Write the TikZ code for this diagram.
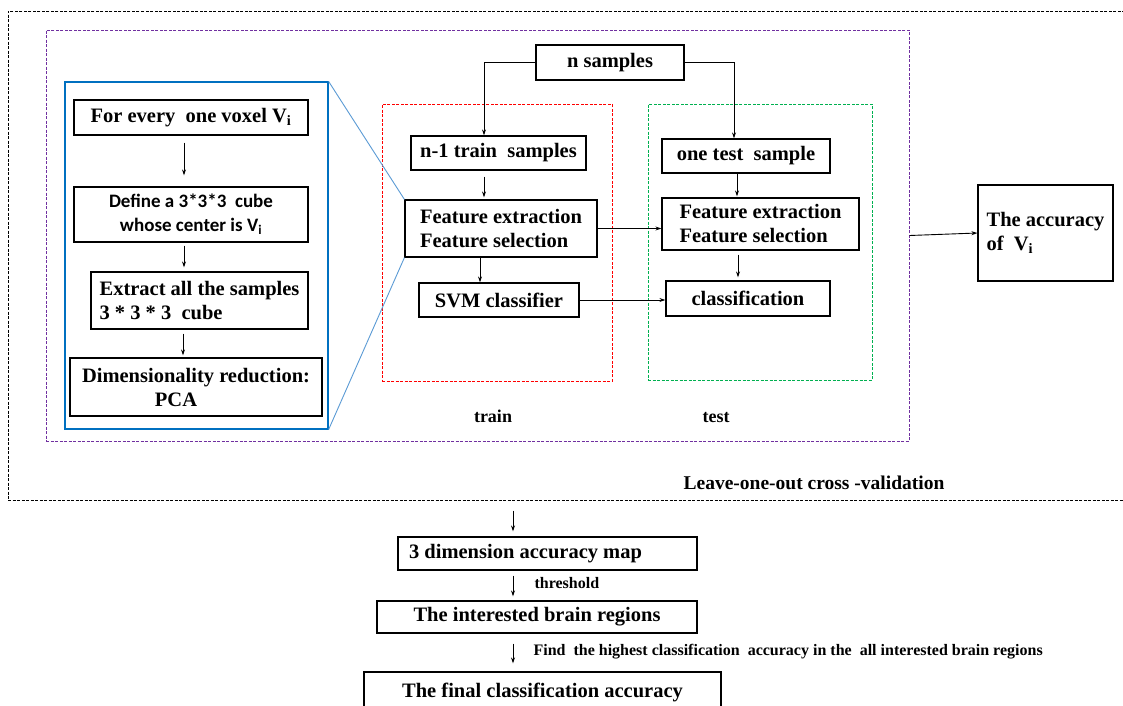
\documentclass[tikz,border=0pt]{standalone}
\usepackage{fontspec}
\setmainfont{Liberation Serif}
\newfontfamily\calibrifont{Carlito}
\usetikzlibrary{arrows.meta}

\begin{document}
\begin{tikzpicture}[x=1pt,y=-1pt,
    box/.style={draw, line width=1.2pt, align=center, inner sep=2pt, font=\fontsize{20.5}{24}\selectfont\bfseries},
    region/.style={draw, line width=1pt, dash pattern=on 3pt off 1.5pt},
    arr/.style={-{Stealth[length=6pt,width=4pt]}, line width=0.9pt},
    zoomline/.style={draw={rgb,255:red,91;green,155;blue,213}, line width=0.9pt},
    lbl/.style={font=\fontsize{16}{19}\selectfont\bfseries}]
  \clip (0,0) rectangle (1123,705);
  \fill[white] (0,0) rectangle (1123,705);

  % Dashed regions
  \node[region, minimum width=1124, minimum height=489] (loocv) at (570,255.5) {};
  \node[region, draw={rgb,255:red,112;green,48;blue,160}, minimum width=863, minimum height=411] (fold) at (477.5,235.5) {};
  \node[region, draw=red, minimum width=230, minimum height=277] (trainbox) at (497,242.5) {};
  \node[region, draw={rgb,255:red,0;green,176;blue,80}, minimum width=224, minimum height=276] (testbox) at (760,242) {};
  \node[draw={rgb,255:red,0;green,112;blue,192}, line width=1.2pt, minimum width=263, minimum height=347] (voxbox) at (196.5,255.5) {};

  % Voxel steps
  \node[box, minimum width=234, minimum height=35] (forv) at (191,117.5) {For every\ \ one voxel V\textsubscript{i}};
  \node[box, minimum width=234, minimum height=55, font=\calibrifont\fontsize{19}{24}\selectfont\bfseries] (define) at (191,214.5) {Define a 3*3*3\ \ cube\\whose center is V\textsubscript{i}};
  \node[box, align=left, minimum width=217, minimum height=57] (extract) at (199.5,300.5) {Extract all the samples\\3 * 3 * 3\ \ cube};
  \node[box, minimum width=252, minimum height=58] (dimred) at (196,387) {Dimensionality reduction:\\\hspace*{-40pt}PCA};

  \draw[arr, shorten <=7pt, shorten >=11pt] ([xshift=-7]forv.south) -- ([xshift=-7]forv.south |- define.north);
  \draw[arr, shorten <=3pt, shorten >=4pt] ([xshift=-7]define.south) -- ([xshift=-7]define.south |- extract.north);
  \draw[arr, shorten <=4pt, shorten >=2pt] ([xshift=-8]define.south |- extract.south) -- ([xshift=-8]define.south |- dimred.north);

  % Train and test
  \node[box, minimum width=148, minimum height=35] (nsamp) at (610,62.5) {n samples};
  \node[box, minimum width=175, minimum height=34] (trainsamp) at (498.5,153) {n-1 train\ \ samples};
  \node[box, align=left, minimum width=192, minimum height=57] (featA) at (501,228.5) {Feature extraction\\Feature selection};
  \node[box, minimum width=160, minimum height=34] (svm) at (499,300) {SVM classifier};
  \node[box, minimum width=168, minimum height=34] (testsamp) at (746,156) {one test\ \ sample};
  \node[box, align=left, minimum width=197, minimum height=52] (featB) at (760.5,224) {Feature extraction\\Feature selection};
  \node[box, minimum width=164, minimum height=35] (classif) at (748,298.5) {classification};
  \node[box, align=left, minimum width=135, minimum height=96] (acc) at (1045.5,233) {The accuracy\\of\ \ V\textsubscript{i}};

  \node[font=\fontsize{18}{20}\selectfont\bfseries] (trainlbl) at (493,416) {train};
  \node[font=\fontsize{18}{20}\selectfont\bfseries] (testlbl) at (716,418) {test};
  \node[font=\fontsize{19.5}{21}\selectfont\bfseries] (loolbl) at (814,483) {Leave-one-out cross -validation};

  \draw[arr] (nsamp.west) -| ([xshift=-14.5]trainsamp.north);
  \draw[arr] (nsamp.east) -| ([xshift=-12]testsamp.north);
  \draw[arr, shorten <=6pt, shorten >=2pt] ([xshift=-14.5]trainsamp.south) -- ([xshift=-14.5]trainsamp.south |- featA.north);
  \draw[arr] ([xshift=-21]featA.south) -- ([xshift=-21]featA.south |- svm.north);
  \draw[arr] (featA.east) -- (featA.east -| featB.west);
  \draw[arr] (svm.east) -- (svm.east -| classif.west);
  \draw[arr, shorten >=1pt] ([xshift=-9]testsamp.south) -- ([xshift=-9]testsamp.south |- featB.north);
  \draw[arr, shorten <=4pt, shorten >=3pt] ([xshift=-22.5]featB.south) -- ([xshift=-22.5]featB.south |- classif.north);
  \draw[arr] (fold.east) -- (acc.west);

  % Zoom lines
  \draw[zoomline] (voxbox.north east) -- (featA.north west);
  \draw[zoomline] (voxbox.south east) -- (featA.south west);

  % Final steps
  \node[box, align=left, minimum width=299, minimum height=33] (map) at (547.5,553.5) {3 dimension accuracy map\hspace*{44pt}};
  \node[box, minimum width=320, minimum height=32] (regions) at (537,617) {The interested brain regions};
  \node[box, minimum width=357, minimum height=40] (final) at (542.5,692) {The final classification accuracy};

  \draw[arr, shorten <=10pt, shorten >=5pt] ([xshift=-34.5]map.north |- loocv.south) -- ([xshift=-34.5]map.north);
  \draw[arr, shorten <=5pt, shorten >=4pt] ([xshift=-34.5]map.south) -- ([xshift=-34.5]map.south |- regions.north);
  \draw[arr, shorten <=10pt, shorten >=8pt] ([xshift=-24]regions.south) -- ([xshift=-24]regions.south |- final.north);
  \node[lbl, anchor=west] (thr) at (531,583) {threshold};
  \node[lbl, anchor=west, font=\fontsize{16}{18}\selectfont\bfseries] (findlbl) at (530,652) {Find\ \ the highest classification\ \ accuracy in the\ \ all interested brain regions};
\end{tikzpicture}
\end{document}
